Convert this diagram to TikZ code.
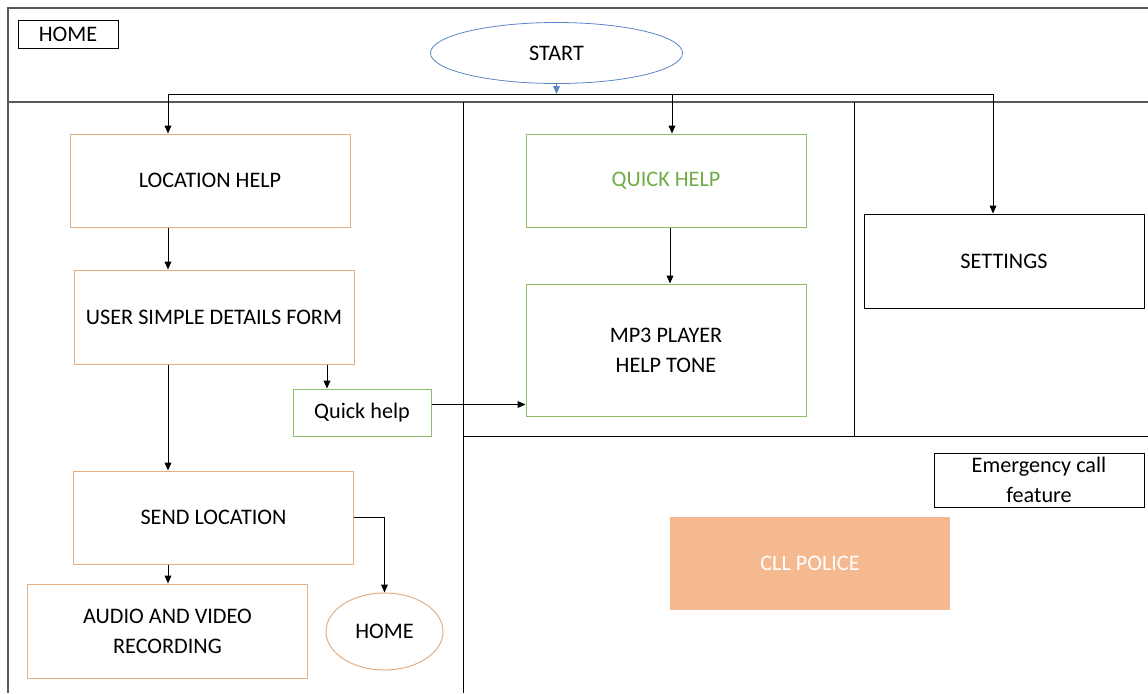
\documentclass[tikz,border=0pt]{standalone}
\usepackage{fontspec}
\setmainfont{Carlito}
\usetikzlibrary{arrows.meta,shapes.geometric}
\definecolor{boxorange}{HTML}{E2AE84}
\definecolor{boxgreen}{HTML}{8CC068}
\definecolor{textgreen}{HTML}{70AD47}
\definecolor{startblue}{HTML}{5B84C8}
\definecolor{policefill}{HTML}{F4B98F}
\definecolor{framegray}{HTML}{595959}
\begin{document}
\begin{tikzpicture}[x=0.5pt,y=-0.5pt]
                  \tikzstyle{every node}+=[inner sep=0pt, align=center, font=\fontsize{11.1}{15}\selectfont]
                  \tikzstyle{orangebox}=[draw=boxorange, line width=0.5pt, minimum width=140pt, minimum height=46.5pt]
                  \tikzstyle{greenbox}=[draw=boxgreen, line width=0.5pt, minimum width=140pt, minimum height=46.5pt]
                  \tikzstyle{blackbox}=[draw=black, line width=0.5pt]
                  \tikzstyle{link}=[black, line width=0.5pt, -{Triangle[length=4pt,width=3.4pt]}]
                  \useasboundingbox (0,0) rectangle (1148,693);
                  % frame and panels
                  \draw [framegray, line width=0.8pt] (8,693) -- (8,8) -- (1148,8);
                  \draw [framegray, line width=0.8pt] (8,102) -- (1148,102);
                  \draw [black, line width=0.4pt] (463,102) -- (463,693);
                  \draw [black, line width=0.4pt] (854,102) -- (854,436);
                  \draw [black, line width=0.5pt] (463,436) -- (1148,436);
                  % nodes
                  \node [blackbox, minimum width=50pt, minimum height=14pt] (homehdr) at (68,34) {HOME};
                  \node [ellipse, draw=startblue, line width=0.4pt, minimum width=126pt, minimum height=30.5pt] (start) at (556.5,53) {START};
                  \node [orangebox] (loc) at (210,180.5) {LOCATION HELP};
                  \node [orangebox, minimum height=47pt] (form) at (214,317) {USER SIMPLE DETAILS FORM};
                  \node [greenbox, minimum width=69pt, minimum height=23.5pt] (qhelp) at (362,412.5) {Quick help};
                  \node [greenbox, text=textgreen] (quick) at (666,180.5) {QUICK HELP};
                  \node [greenbox, minimum height=66pt] (mp3) at (666,350) {MP3 PLAYER\\HELP TONE};
                  \node [blackbox, minimum width=140pt, minimum height=47pt] (settings) at (1004,261) {SETTINGS};
                  \node [orangebox] (send) at (213.5,517.5) {SEND LOCATION};
                  \node [orangebox, minimum height=47pt] (audio) at (167.5,631) {AUDIO AND VIDEO\\RECORDING};
                  \node [ellipse, draw=boxorange, line width=0.5pt, minimum width=58.5pt, minimum height=38.5pt] (homeend) at (384.5,631.5) {HOME};
                  \node [blackbox, minimum width=105pt, minimum height=27pt] (emerg) at (1039,480) {Emergency call\\feature};
                  \node [fill=policefill, text=white, minimum width=140pt, minimum height=46.5pt] (police) at (810,563.5) {CLL POLICE};
                  % connectors
                  \coordinate (busl) at (168,94);
                  \coordinate (busq) at (672,94);
                  \coordinate (busr) at (993,94);
                  \coordinate (tap) at (327,364);
                  \draw [link, startblue] (start.south) -- (start.south |- busl);
                  \draw [black, line width=0.5pt] (busl) -- (busr);
                  \draw [link] (busl) -- (busl |- loc.north);
                  \draw [link] (busq) -- (busq |- quick.north);
                  \draw [link] (busr) -- (busr |- settings.north);
                  \draw [link] (loc.south -| busl) -- (form.north -| busl);
                  \draw [link] (form.south -| busl) -- (send.north -| busl);
                  \draw [link] (form.south -| tap) -- (qhelp.north -| tap);
                  \draw [link] ([yshift=4pt]qhelp.east) -- ([yshift=4pt]qhelp.east -| mp3.west);
                  \draw [link] ([xshift=2pt]quick.south) -- ([xshift=2pt]mp3.north);
                  \draw [link] (send.south -| busl) -- (audio.north -| busl);
                  \draw [link] (send.east) -| (homeend.north);
              \end{tikzpicture}
\end{document}
